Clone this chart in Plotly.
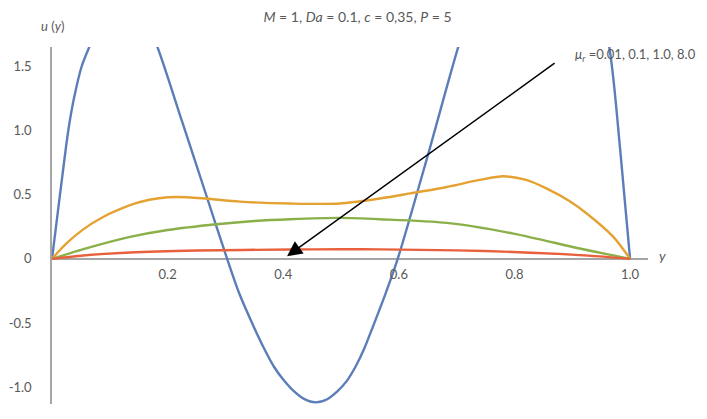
import plotly.graph_objects as go

# Dati nolasīti no attēla
y_blue = [0.0, 0.0138, 0.0282, 0.038, 0.0514, 0.0645, 0.085, 0.11, 0.13, 0.155, 0.182, 0.225, 0.268, 0.303,
          0.324, 0.349, 0.366, 0.384, 0.40, 0.416, 0.436, 0.456, 0.476, 0.494, 0.51, 0.525, 0.54, 0.555,
          0.577, 0.598, 0.651, 0.703, 0.75, 0.8, 0.86, 0.92, 0.965, 0.983, 1.0]
u_blue = [0.0, 0.5, 1.0, 1.25, 1.5, 1.65, 1.85, 1.97, 2.0, 1.93, 1.654, 1.07, 0.48, 0.0,
          -0.27, -0.529, -0.69, -0.84, -0.94, -1.02, -1.09, -1.117, -1.093, -1.03, -0.95, -0.84, -0.70, -0.529,
          -0.27, 0.0, 0.82, 1.654, 2.3, 2.7, 2.85, 2.6, 1.62, 0.845, 0.0]

y_orange = [0.0, 0.025, 0.054, 0.09, 0.135, 0.152, 0.185, 0.216, 0.26, 0.325, 0.412, 0.498,
            0.567, 0.62, 0.683, 0.74, 0.781, 0.82, 0.856, 0.895, 0.925, 0.971, 1.0]
u_orange = [0.0, 0.12, 0.23, 0.33, 0.418, 0.443, 0.472, 0.482, 0.472, 0.446, 0.431, 0.431,
            0.47, 0.51, 0.56, 0.615, 0.643, 0.615, 0.547, 0.45, 0.353, 0.171, 0.0]

y_green = [0.0, 0.05, 0.135, 0.2, 0.285, 0.35, 0.412, 0.498, 0.567, 0.683, 0.798, 0.913, 1.0]
u_green = [0.0, 0.07, 0.171, 0.225, 0.27, 0.295, 0.309, 0.319, 0.309, 0.28, 0.197, 0.081, 0.0]

y_red = [0.0, 0.05, 0.135, 0.25, 0.412, 0.5, 0.567, 0.7, 0.798, 0.913, 1.0]
u_red = [0.0, 0.025, 0.05, 0.065, 0.073, 0.075, 0.074, 0.066, 0.054, 0.029, 0.0]

x_ticks = [0.2, 0.4, 0.6, 0.8, 1.0]
x_tick_labels = ['0.2', '0.4', '0.6', '0.8', '1.0']
u_ticks = [-1.0, -0.5, 0.0, 0.5, 1.0, 1.5]
u_tick_labels = ['-1.0', '-0.5', '0', '0.5', '1.0', '1.5']

# bultas gals un sākums (datu koordinātās)
arrow_tip = (0.4066, 0.021)
arrow_tail = (0.872, 1.532)

fonts = 'Lato, Roboto, sans-serif'
teksta_krasa = '#595959'
ass_krasa = '#a6a6a6'

# lapai ir 8px body atkāpe, tāpēc figūra ir mazāka par logu
W, H = 699, 411
u_min, u_max = -1.13, 1.65

fig = go.Figure()
for xs, us, krasa, nosaukums in [
    (y_blue, u_blue, '#5b7db8', 'μr = 8.0'),
    (y_orange, u_orange, '#e4a232', 'μr = 1.0'),
    (y_green, u_green, '#8bb04a', 'μr = 0.1'),
    (y_red, u_red, '#e8613c', 'μr = 0.01'),
]:
    fig.add_trace(go.Scatter(
        x=xs, y=us, mode='lines', name=nosaukums,
        line=dict(color=krasa, width=2.4, shape='spline', smoothing=0.8),
        showlegend=False
    ))

fig.add_annotation(
    x=arrow_tip[0], y=arrow_tip[1], ax=arrow_tail[0], ay=arrow_tail[1],
    xref='x', yref='y', axref='x', ayref='y',
    showarrow=True, arrowhead=2, arrowsize=2, arrowwidth=1.5,
    arrowcolor='black', standoff=0, text=''
)
fig.add_annotation(
    xref='paper', yref='paper', x=0.874, y=0.977,
    text='<i>μ<sub>r</sub></i> =0.01, 0.1, 1.0, 8.0',
    showarrow=False, xanchor='left', yanchor='middle',
    font=dict(family=fonts, size=13, color=teksta_krasa)
)
fig.add_annotation(
    xref='paper', yref='paper', x=0.0, y=1.06,
    text='<i>u</i> (<i>y</i>)', showarrow=False,
    xanchor='center', yanchor='middle',
    font=dict(family=fonts, size=13, color=teksta_krasa)
)
fig.add_annotation(
    xref='paper', yref='paper', x=1.0235, y=0.415,
    text='<i>y</i>', showarrow=False,
    xanchor='center', yanchor='middle',
    font=dict(family=fonts, size=14, color=teksta_krasa)
)

fig.update_layout(
    width=W, height=H,
    margin=dict(l=44, r=59, t=38.5, b=15),
    plot_bgcolor='white', paper_bgcolor='white',
    font=dict(family=fonts, size=13, color=teksta_krasa),
    title=dict(
        text='<i>M</i> = 1, <i>Da</i> = 0.1, <i>c</i> = 0,35, <i>P</i> = 5',
        x=0.5, xref='container', xanchor='center',
        y=1 - 9 / H, yref='container', yanchor='middle',
        font=dict(family=fonts, size=14, color=teksta_krasa)
    ),
)
fig.update_xaxes(
    range=[0, 1.031], tickvals=x_ticks, ticktext=x_tick_labels,
    showgrid=False, zeroline=False, showline=False, automargin=False,
    anchor='free', position=(0 - u_min) / (u_max - u_min), ticks='', ticklabelstandoff=6,
    tickfont=dict(family=fonts, size=13, color=teksta_krasa)
)
fig.update_yaxes(
    range=[u_min, u_max], tickvals=u_ticks, ticktext=u_tick_labels,
    showgrid=False, zeroline=True, zerolinecolor=ass_krasa, zerolinewidth=1.5,
    showline=True, linecolor=ass_krasa, linewidth=1.5, automargin=False,
    ticks='', ticklabelstandoff=16,
    tickfont=dict(family=fonts, size=13, color=teksta_krasa)
)

fig.write_html('out.html')
